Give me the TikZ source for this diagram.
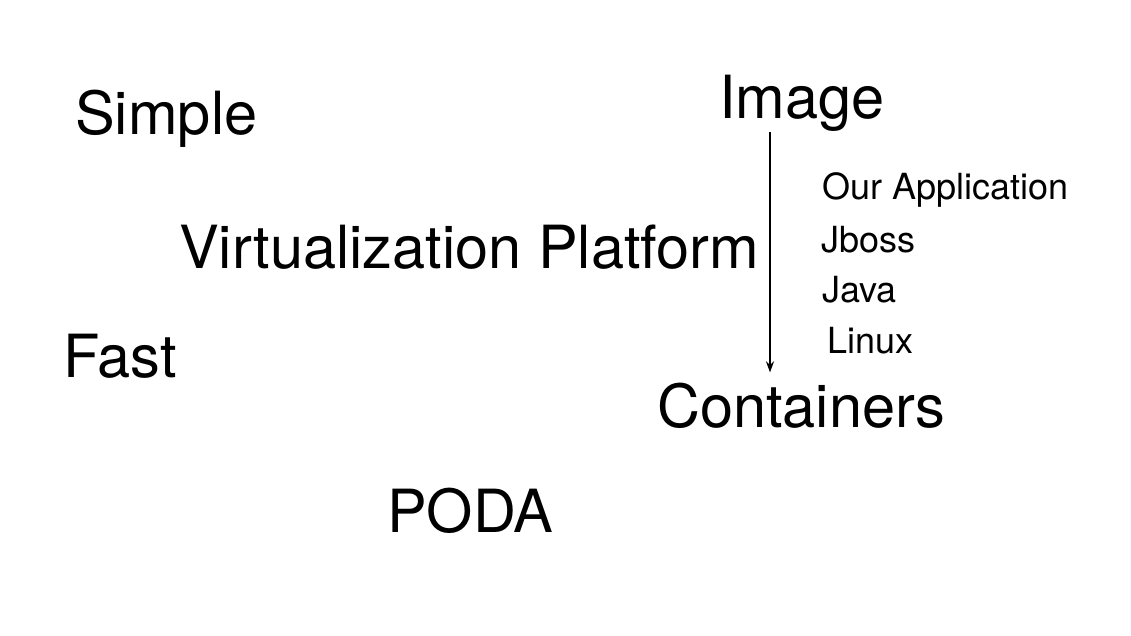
\documentclass[tikz,border=0pt]{standalone}
\usepackage{fontspec}
\setmainfont{TeX Gyre Heros}
\usepackage{tikz}
\usetikzlibrary{arrows.meta}

\tikzset{
  big/.style={font=\fontsize{59.5}{61}\selectfont, anchor=base west, inner sep=0pt},
  small/.style={font=\fontsize{36}{38}\selectfont, anchor=base west, inner sep=0pt}
}

\begin{document}
\begin{tikzpicture}[x=1pt,y=-1pt]
              \useasboundingbox (0,0) rectangle (1131,636);

              \node[big] (simple) at (75,135) {Simple};
              \node[big] (virt) at (179,268) {Virtualization Platform};
              \node[big] (fast) at (63,377) {Fast};
              \node[big] (poda) at (387,532) {PODA};
              \node[big] (img) at (719,119) {Image};
              \node[big] (cont) at (657,427) {Containers};

              %stack
              \node[small] (app) at (822,200) {Our Application};
              \node[small] (jboss) at (821,252) {Jboss};
              \node[small] (java) at (822,302) {Java};
              \node[small] (linux) at (827,353) {Linux};

              %img>cont
              \draw[-{Stealth[length=11pt,width=8pt]},line width=2pt] ([xshift=51pt]img.south west) -- ([xshift=113pt,yshift=10pt]cont.north west);

            \end{tikzpicture}
\end{document}
